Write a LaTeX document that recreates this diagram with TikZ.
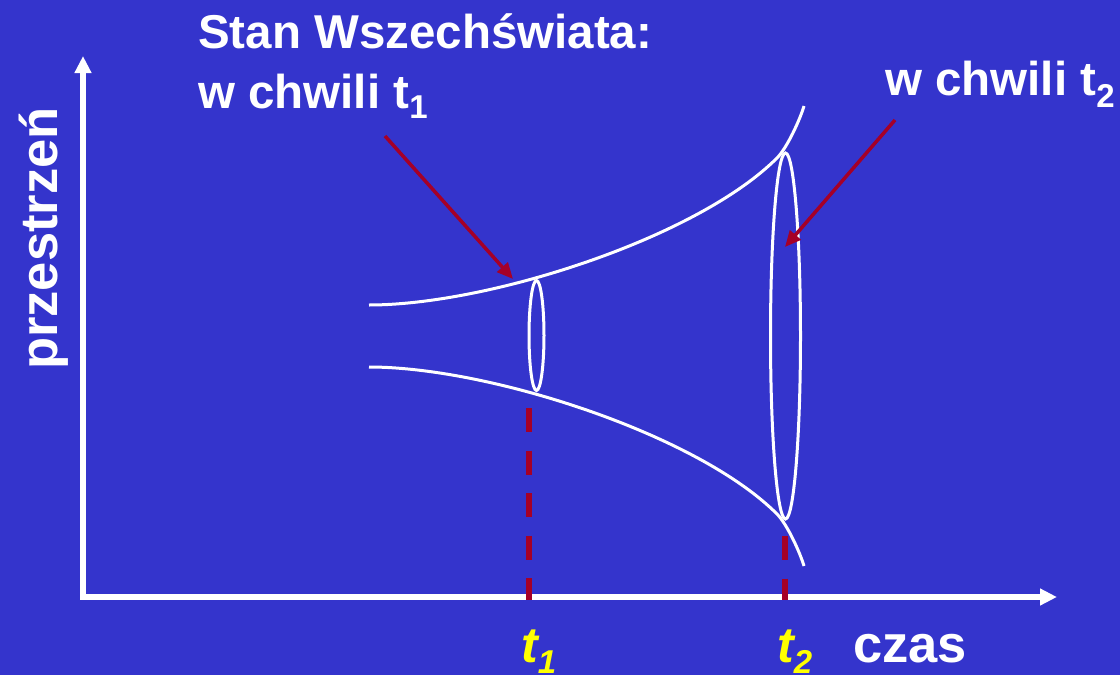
\documentclass[tikz,border=0pt]{standalone}
\usepackage{fontspec}
\setmainfont{Liberation Sans}
\usetikzlibrary{arrows.meta,shapes.geometric}
\definecolor{bgblue}{RGB}{52,52,204}
\definecolor{darkred}{RGB}{165,0,40}
\definecolor{labyellow}{RGB}{255,255,0}
\newcommand\lowsub[2]{\raisebox{-#1pt}{\fontsize{33}{33}\selectfont #2}}
\begin{document}
\begin{tikzpicture}[x=1pt,y=-1pt,
  axisline/.style={white,line width=5.5pt,line join=miter,
    {Triangle[length=17pt,width=16pt]}-{Triangle[length=17pt,width=16pt]}},
  curveline/.style={white,line width=3pt},
  ringnode/.style={ellipse,draw=white,line width=3pt,inner sep=0pt,outer sep=0pt},
  pointer/.style={darkred,line width=3.5pt,-{Triangle[length=16pt,width=14pt]}},
  dashmark/.style={darkred,line width=6pt,dash pattern=on 24pt off 18.6pt},
  toptext/.style={white,inner sep=0pt,anchor=base west,font=\fontsize{47.5}{57}\selectfont\bfseries},
  sidetext/.style={white,inner sep=0pt,anchor=base west,font=\fontsize{52.5}{60}\selectfont\bfseries},
  ttext/.style={labyellow,inner sep=0pt,anchor=base west,font=\fontsize{50}{60}\selectfont\bfseries\itshape}
]
\fill[bgblue] (0,0) rectangle (1120,675);
\useasboundingbox (0,0) rectangle (1120,675);

% axes
\coordinate (ytop) at (83,56);
\coordinate (origin) at (83,597);
\coordinate (xend) at (1057,597);
\draw[axisline] (ytop) -- (origin) -- (xend);

% funnel curves
\draw[curveline] (369,305) .. controls (489,305) and (697,238) .. (777,158)
  .. controls (787,148) and (800,119.6) .. (804,106);
\draw[curveline] (369,367) .. controls (489,367) and (697,434) .. (777,514)
  .. controls (787,524) and (800,552.4) .. (804,566);

% slices
\node[ringnode,minimum width=15pt,minimum height=110pt] (ring1) at (536.5,335.5) {};
\node[ringnode,minimum width=30pt,minimum height=366pt] (ring2) at (785.5,336) {};

% dashed time marks
\coordinate (d1top) at (529,408);
\coordinate (d1bot) at (529,600);
\coordinate (d2top) at (785,536);
\coordinate (d2bot) at (785,600);
\draw[dashmark] (d1top) -- (d1bot);
\draw[dashmark] (d2top) -- (d2bot);

% pointers
\coordinate (p1s) at (385,136);
\coordinate (p1e) at (513,279);
\coordinate (p2s) at (895,120);
\coordinate (p2e) at (785,247);
\draw[pointer] (p1s) -- (p1e);
\draw[pointer] (p2s) -- (p2e);

% texts
\node[toptext] (title) at (198,48) {Stan Wszechświata:};
\node[toptext] (lab1) at (198,108) {w chwili t\lowsub{10}{1}};
\node[toptext] (lab2) at (885,95) {w chwili t\lowsub{12}{2}};
\node[sidetext,rotate=90] (ylab) at (57,370) {przestrzeń};
\node[sidetext] (xlab) at (853,662) {czas};
\node[ttext] (t1) at (521,662) {t\lowsub{11}{1}};
\node[ttext] (t2) at (777,662) {t\lowsub{11}{2}};
\end{tikzpicture}
\end{document}
